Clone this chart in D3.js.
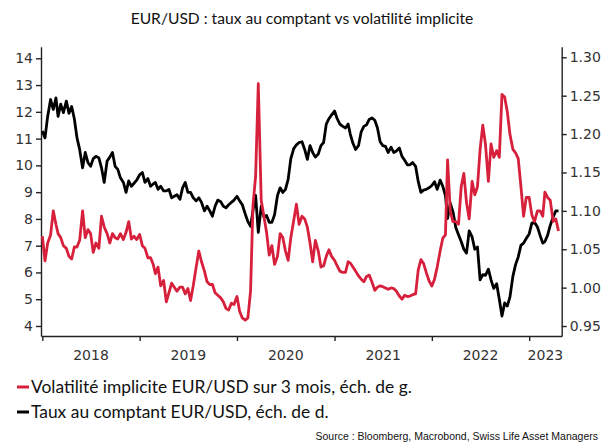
<!DOCTYPE html>
<html>
<head>
<meta charset="utf-8">
<script src="https://cdn.jsdelivr.net/npm/d3@7"></script>
<style>
body { margin: 0; background: #fff; }
.axis path, .axis line { stroke: #222; stroke-width: 1.4; }
.axis text { font-family: "DejaVu Sans", sans-serif; font-size: 14px; fill: #333; }
</style>
</head>
<body>
<svg id="chart" width="605" height="443"></svg>
<script>
// semi-decadal sample days inside each month (1st, 11th, 21st)
var sampleDays = [1, 11, 21];
var firstMonth = [2018, 0], lastMonth = [2023, 3];

// EUR/USD spot, right scale (one row per year)
var eurusd = [
    1.204, 1.195, 1.223, 1.245, 1.232, 1.247, 1.223, 1.239, 1.228, 1.243, 1.227, 1.236,
    1.220, 1.195, 1.180, 1.156, 1.176, 1.163, 1.158, 1.168, 1.171, 1.169, 1.156, 1.137,
    1.165, 1.170, 1.176, 1.158, 1.154, 1.143, 1.137, 1.124, 1.139, 1.132, 1.136, 1.140,
    // 2019
    1.147, 1.150, 1.137, 1.142, 1.132, 1.135, 1.137, 1.128, 1.132, 1.126, 1.126, 1.128,
    1.117, 1.119, 1.121, 1.115, 1.130, 1.137, 1.124, 1.124, 1.117, 1.113, 1.117, 1.111,
    1.100, 1.106, 1.100, 1.093, 1.106, 1.114, 1.112, 1.106, 1.104, 1.108, 1.111, 1.114,
    // 2020
    1.119, 1.113, 1.108, 1.096, 1.086, 1.080, 1.100, 1.120, 1.072, 1.106, 1.092, 1.094,
    1.085, 1.085, 1.095, 1.120, 1.130, 1.124, 1.128, 1.141, 1.168, 1.181, 1.186, 1.189,
    1.190, 1.180, 1.167, 1.185, 1.176, 1.170, 1.174, 1.185, 1.189, 1.213, 1.220, 1.225,
    // 2021
    1.230, 1.220, 1.213, 1.210, 1.208, 1.213, 1.200, 1.188, 1.180, 1.185, 1.203, 1.210,
    1.212, 1.219, 1.221, 1.218, 1.208, 1.190, 1.185, 1.184, 1.176, 1.183, 1.176, 1.178,
    1.182, 1.171, 1.166, 1.160, 1.160, 1.163, 1.158, 1.138, 1.124, 1.127, 1.128, 1.130,
    // 2022
    1.133, 1.138, 1.128, 1.140, 1.132, 1.120, 1.090, 1.110, 1.099, 1.078, 1.069, 1.060,
    1.050, 1.045, 1.074, 1.066, 1.050, 1.053, 1.010, 1.017, 1.016, 1.024, 1.010, 0.999,
    1.005, 0.985, 0.963, 0.980, 0.976, 0.988, 1.015, 1.030, 1.040, 1.055, 1.058, 1.064,
    // 2023
    1.070, 1.084, 1.085, 1.079, 1.068, 1.058, 1.060, 1.068, 1.081, 1.092, 1.100, 1.100
];

// EUR/USD 3m implied volatility, left scale
var vol = [
    7.36, 6.43, 7.10, 7.40, 8.30, 7.80, 7.45, 7.30, 7.00, 6.90, 6.60, 6.50,
    6.95, 6.95, 7.20, 8.30, 7.30, 7.60, 7.45, 6.75, 7.10, 6.90, 8.10, 7.70,
    7.45, 7.10, 7.45, 7.30, 7.25, 7.45, 7.23, 7.50, 7.90, 7.25, 7.35, 7.23,
    // 2019
    7.42, 7.00, 6.90, 6.55, 6.55, 6.30, 5.95, 6.20, 5.50, 5.70, 4.90, 5.25,
    5.60, 5.45, 5.30, 5.45, 5.45, 5.20, 5.40, 4.95, 5.50, 6.20, 6.80, 6.40,
    6.05, 5.65, 5.55, 5.55, 5.24, 5.15, 5.05, 4.90, 4.65, 4.60, 4.85, 4.80,
    // 2020
    5.10, 4.55, 4.30, 4.22, 4.30, 5.30, 8.50, 9.60, 13.05, 8.70, 8.10, 7.50,
    6.65, 7.00, 6.30, 6.60, 7.45, 7.30, 6.80, 6.45, 7.30, 7.95, 8.55, 7.80,
    8.10, 8.00, 7.70, 7.10, 6.40, 7.20, 6.80, 6.20, 6.25, 6.60, 6.85, 6.60,
    // 2021
    6.45, 6.25, 6.05, 6.00, 6.00, 6.40, 6.35, 6.20, 6.05, 5.87, 5.75, 5.65,
    5.85, 5.90, 5.65, 5.33, 5.45, 5.50, 5.47, 5.42, 5.37, 5.42, 5.40, 5.30,
    5.12, 5.00, 5.15, 5.10, 5.12, 5.17, 5.20, 6.10, 6.48, 6.33, 6.00, 5.70,
    // 2022
    5.49, 5.75, 6.20, 6.80, 7.28, 7.40, 10.20, 8.30, 7.90, 7.90, 7.80, 9.20,
    9.70, 8.60, 8.00, 9.40, 8.90, 9.20, 10.60, 11.50, 10.80, 9.40, 10.80, 10.30,
    10.55, 10.30, 12.65, 12.55, 12.00, 11.15, 10.60, 10.47, 10.25, 9.22, 8.10, 8.80,
    // 2023
    8.80, 8.15, 7.90, 8.30, 8.30, 8.10, 9.00, 8.80, 8.70, 7.90, 8.00, 7.55
];

var volTicks = [4, 5, 6, 7, 8, 9, 10, 11, 12, 13, 14];
var spotTicks = [0.95, 1.00, 1.05, 1.10, 1.15, 1.20, 1.25, 1.30];
var yearLabels = ['2018', '2019', '2020', '2021', '2022', '2023'];

var titleText = 'EUR/USD : taux au comptant vs volatilité implicite';
var legendLabels = ['Volatilité implicite EUR/USD sur 3 mois, éch. de g.',
                    'Taux au comptant EUR/USD, éch. de d.'];
var sourceText = 'Source : Bloomberg, Macrobond, Swiss Life Asset Managers';

var red = '#d7203b';

// build the date grid
var dates = [];
for (var yr = firstMonth[0], mo = firstMonth[1];
     yr < lastMonth[0] || (yr == lastMonth[0] && mo <= lastMonth[1]); ) {
    sampleDays.forEach(function (d) { dates.push(new Date(yr, mo, d)); });
    mo++;
    if (mo > 11) { mo = 0; yr++; }
}
var dataset = dates.map(function (d, i) { return { date: d, spot: eurusd[i], vol: vol[i] }; });

var svg = d3.select('#chart');

// plot box (window.top is reserved, hence the prefix)
var plotLeft = 41, plotRight = 561.7, plotTop = 46.7, plotBottom = 336;

var xScale = d3.scaleTime()
    .domain([new Date(2017, 11, 27), new Date(2023, 4, 3)])
    .range([plotLeft, plotRight]);
var yVol = d3.scaleLinear().domain([3.626, 14.433]).range([plotBottom, plotTop]);
var ySpot = d3.scaleLinear().domain([0.937, 1.3138]).range([plotBottom, plotTop]);

// Title
svg.append('text')
    .attr('x', 302).attr('y', 24)
    .attr('text-anchor', 'middle')
    .style('font-family', 'Lato, sans-serif')
    .style('font-size', '15.6px')
    .style('fill', '#111')
    .text(titleText);

// Axes
svg.append('g')
    .attr('class', 'axis')
    .attr('transform', 'translate(' + plotLeft + ',0)')
    .call(d3.axisLeft(yVol).tickValues(volTicks).tickSize(5).tickSizeOuter(0).tickPadding(3));

svg.append('g')
    .attr('class', 'axis')
    .attr('transform', 'translate(' + plotRight + ',0)')
    .call(d3.axisRight(ySpot).tickValues(spotTicks).tickSize(5).tickSizeOuter(0).tickPadding(3)
        .tickFormat(d3.format('.2f')));

var yearStarts = yearLabels.map(function (y) { return new Date(+y, 0, 1); });
svg.append('g')
    .attr('class', 'axis')
    .attr('transform', 'translate(0,' + plotBottom + ')')
    .call(d3.axisBottom(xScale).tickValues(yearStarts).tickSize(5).tickSizeOuter(0).tickFormat(''));

// year labels centred on the visible part of each year
var xEnd = xScale.domain()[1];
svg.append('g').selectAll('text')
    .data(yearLabels).enter()
    .append('text')
    .attr('x', function (d) {
        var a = new Date(+d, 0, 1), b = new Date(+d + 1, 0, 1);
        if (b > xEnd) b = xEnd;
        return (xScale(a) + xScale(b)) / 2;
    })
    .attr('y', 360)
    .attr('text-anchor', 'middle')
    .style('font-family', '"DejaVu Sans", sans-serif')
    .style('font-size', '14px')
    .style('fill', '#333')
    .text(function (d) { return d; });

// Lines
var spotLine = d3.line()
    .x(function (d) { return xScale(d.date); })
    .y(function (d) { return ySpot(d.spot); });
var volLine = d3.line()
    .x(function (d) { return xScale(d.date); })
    .y(function (d) { return yVol(d.vol); });

svg.append('path')
    .datum(dataset)
    .attr('fill', 'none')
    .attr('stroke', '#000')
    .attr('stroke-width', 2.8)
    .attr('stroke-linejoin', 'round')
    .attr('d', spotLine);

svg.append('path')
    .datum(dataset)
    .attr('fill', 'none')
    .attr('stroke', red)
    .attr('stroke-width', 2.8)
    .attr('stroke-linejoin', 'round')
    .attr('d', volLine);

// Legend
var legend = svg.append('g').selectAll('g')
    .data(legendLabels).enter()
    .append('g')
    .attr('transform', function (d, i) { return 'translate(17,' + (387 + i * 25) + ')'; });
legend.append('line')
    .attr('x1', 0).attr('x2', 12)
    .attr('y1', 0).attr('y2', 0)
    .attr('stroke-width', 3)
    .attr('stroke', function (d, i) { return i == 0 ? red : '#000'; });
legend.append('text')
    .attr('x', 14).attr('y', 6)
    .style('font-family', 'Lato, sans-serif')
    .style('font-size', '17.4px')
    .style('fill', '#111')
    .text(function (d) { return d; });

// Source
svg.append('text')
    .attr('x', 598).attr('y', 440)
    .attr('text-anchor', 'end')
    .style('font-family', '"Liberation Sans", Arial, sans-serif')
    .style('font-size', '10.5px')
    .style('fill', '#111')
    .text(sourceText);
</script>
</body>
</html>
